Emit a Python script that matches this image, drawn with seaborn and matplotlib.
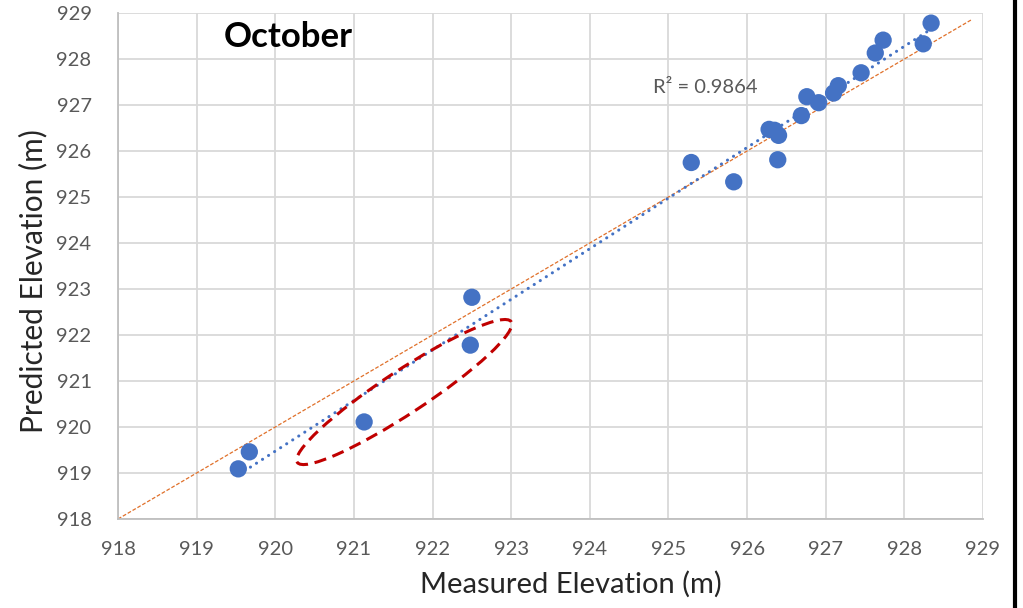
import numpy as np
import pandas as pd
import matplotlib
matplotlib.use("Agg")
import matplotlib.pyplot as plt
from matplotlib.patches import Ellipse
from matplotlib.lines import Line2D
from matplotlib.transforms import ScaledTranslation
import seaborn as sns

# Measured vs. predicted water-surface elevation, October survey (m)
measured = [919.53, 919.67, 921.13, 922.50, 922.48, 925.29, 925.83, 926.39,
            926.28, 926.35, 926.40, 926.69, 926.76, 926.91, 927.10, 927.16,
            927.45, 927.63, 927.73, 928.24, 928.34]
predicted = [919.09, 919.46, 920.11, 922.82, 921.78, 925.75, 925.33, 925.81,
             926.47, 926.45, 926.34, 926.77, 927.18, 927.05, 927.26, 927.42,
             927.70, 928.13, 928.41, 928.33, 928.78]
r2_label = "R\u00b2 = 0.9864"
title_text = "October"
axis_ticks = list(range(918, 930))
one_to_one = [918.0, 928.85]
# highlighted group: centre of the outlined region (data units)
group_center = (921.64, 920.76)

df = pd.DataFrame({"Measured": measured, "Predicted": predicted})

sns.set_style("whitegrid")
plt.rcParams["font.family"] = ["Lato", "DejaVu Sans"]

fig = plt.figure(figsize=(10.23, 6.08), dpi=100)
ax = fig.add_axes([118 / 1023, 89 / 608, 865 / 1023, 506 / 608])

blue = "#4472C4"

# 1:1 reference line
sns.lineplot(x=one_to_one, y=one_to_one, ax=ax, color="#E0702A",
             lw=0.9, dashes=(3, 1.5), zorder=2)

# linear trendline through the observations
sns.regplot(data=df, x="Measured", y="Predicted", ax=ax, scatter=False,
            ci=None, truncate=True,
            line_kws=dict(color=blue, lw=2.2, ls=(0, (0.05, 2.3)),
                          dash_capstyle="round", solid_capstyle="round",
                          zorder=3))

# observations
sns.scatterplot(data=df, x="Measured", y="Predicted", ax=ax, color=blue,
                s=155, edgecolor="none", linewidth=0, zorder=4)

# outline around the under-predicted group
ell = Ellipse((0, 0), width=2.56, height=0.43, angle=33.3, fill=False,
              edgecolor="#C00000", lw=2.2, ls=(0, (4, 2.2)), zorder=5,
              transform=fig.dpi_scale_trans + ScaledTranslation(
                  group_center[0], group_center[1], ax.transData))
ax.add_patch(ell)

ax.set_xlim(918, 929)
ax.set_ylim(918, 929)
ax.set_xticks(axis_ticks)
ax.set_yticks(axis_ticks)
ax.grid(True, color="#D9D9D9", lw=1.3)
for side in ["top", "right"]:
    ax.spines[side].set_visible(False)
for side in ["left", "bottom"]:
    ax.spines[side].set_color("#BFBFBF")
    ax.spines[side].set_linewidth(1.3)
ax.tick_params(axis="both", length=0, labelsize=14.5, colors="#595959")
ax.tick_params(axis="y", pad=19)
ax.tick_params(axis="x", pad=16)

ax.set_xlabel("Measured Elevation (m)", fontsize=21, color="#262626")
ax.set_ylabel("Predicted Elevation (m)", fontsize=21.5, color="#262626")
ax.xaxis.set_label_coords(0.523, -0.102)
ax.yaxis.set_label_coords(-0.082, 0.470)

ax.text(920.16, 928.48, title_text, fontsize=25, fontweight="bold",
        color="black", ha="center", va="center")
ax.text(924.80, 927.37, r2_label, fontsize=14.5, color="#595959",
        ha="left", va="center")

# right-hand frame edge
fig.add_artist(Line2D([0.992, 0.992], [0, 1], transform=fig.transFigure,
                      color="black", lw=3))

fig.savefig("out.png", dpi=100)
